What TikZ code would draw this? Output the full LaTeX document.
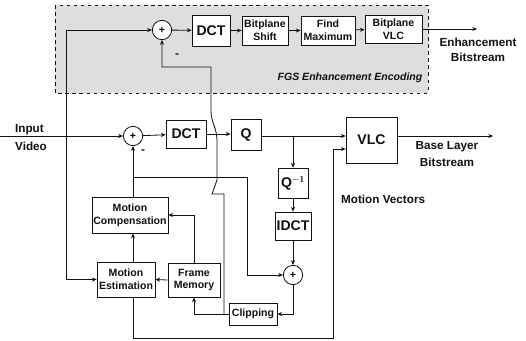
\documentclass[tikz,border=0pt]{standalone}
\usepackage{fontspec}
\setsansfont{Liberation Sans}
\usepackage{tikz}
\usetikzlibrary{arrows.meta,positioning,calc}
\definecolor{fgsInk}{HTML}{111111}
\definecolor{fgsShade}{HTML}{DEDEDE}
\tikzset{
  % plain block
  blk/.style={rectangle,draw=fgsInk,fill=white,line width=0.7pt,
    align=center,inner sep=1pt,font=\sffamily\bfseries\small,text=fgsInk},
  % adder
  sumc/.style={circle,draw=fgsInk,fill=white,line width=0.7pt,
    minimum size=0.58cm,inner sep=0pt,font=\sffamily\bfseries\small},
  % outside labels
  lbl/.style={font=\sffamily\bfseries,text=fgsInk,align=center},
  % wires
  arr/.style={-{Stealth[length=4pt,width=3.5pt]},line width=0.7pt,color=fgsInk},
  wire/.style={line width=0.7pt,color=fgsInk},
}
\begin{document}
\begin{tikzpicture}[x=0.03cm,y=-0.03cm]
  \useasboundingbox (0,0) rectangle (526,341);

  % FGS enhancement layer area
  \draw[dashed,fill=fgsShade,draw=fgsInk,line width=0.6pt] (55,5) rectangle (428,93);
  \node[lbl,font=\sffamily\bfseries\itshape\small] (fgs) at (350,78)
    {FGS Enhancement Encoding};

  % enhancement chain
  \node[sumc] (esum) at (162,30) {+};
  \node[blk,font=\sffamily\bfseries\large,minimum width=1.14cm,minimum height=0.93cm]
    (edct) at (211,30.5) {DCT};
  \node[blk,minimum width=1.38cm,minimum height=0.87cm] (bshift) at (265,30.5)
    {Bitplane\\Shift};
  \node[blk,minimum width=1.62cm,minimum height=0.87cm] (fmax) at (328,30.5)
    {Find\\Maximum};
  \node[blk,minimum width=1.71cm,minimum height=0.84cm] (bvlc) at (393.5,29)
    {Bitplane\\VLC};
  \node[lbl] (enhout) at (478,50) {Enhancement\\[1pt]Bitstream};
  \coordinate (enhend) at (477,29);

  % base layer chain
  \node[lbl,align=left] (input) at (31,137.5) {Input\\[4pt]Video};
  \coordinate (inp) at (0,136);
  \coordinate (split) at (66,136);
  \node[sumc] (msum) at (133,136) {+};
  \node[blk,font=\sffamily\bfseries\large,minimum width=1.2cm,minimum height=0.84cm]
    (mdct) at (186,134) {DCT};
  \node[blk,font=\sffamily\bfseries\large,minimum width=0.9cm,minimum height=0.93cm]
    (q) at (246,134.5) {Q};
  \node[blk,font=\sffamily\bfseries\large,minimum width=1.53cm,minimum height=1.38cm]
    (vlc) at (371.5,140) {VLC};
  \node[lbl] (baseout) at (447,154) {Base Layer\\[2pt]Bitstream};
  \coordinate (baseend) at (493,136);

  % reconstruction loop
  \node[blk,font=\sffamily\bfseries\large,minimum width=0.9cm,minimum height=0.9cm]
    (qinv) at (293,183) {Q$^{\mathbf{-1}}$};
  \node[blk,font=\sffamily\bfseries\large,minimum width=1.08cm,minimum height=0.84cm]
    (idct) at (293,226) {IDCT};
  \node[sumc] (rsum) at (293,275) {+};
  \node[blk,minimum width=1.44cm,minimum height=0.66cm] (clip) at (253,314) {Clipping};
  \node[blk,minimum width=1.56cm,minimum height=1.02cm] (fmem) at (194,280)
    {Frame\\Memory};
  \node[blk,minimum width=1.74cm,minimum height=1.05cm] (mest) at (126,279.5)
    {Motion\\Estimation};
  \node[blk,minimum width=2.28cm,minimum height=1.08cm] (mcomp) at (130,215)
    {Motion\\Compensation};
  \node[lbl,anchor=west] (mvlbl) at (337,199) {Motion Vectors};

  % signs
  \node[lbl,font=\sffamily\bfseries] (eminus) at (177,56) {-};
  \node[lbl,font=\sffamily\bfseries] (mminus) at (143,152) {-};

  \coordinate (fb) at (133,177);
  \coordinate (fbr) at (247,177);
  \coordinate (mv) at (333,338);
  \coordinate (rec) at (224,314);

  % connectors
  \draw[wire] (inp) -- (split);
  \draw[arr] (split) -- (msum.west);
  \draw[arr] (split) |- (esum.west);
  \draw[arr] (split) |- (mest.west);
  \draw[arr] (esum) -- (edct);
  \draw[arr] (edct) -- (bshift);
  \draw[arr] (bshift) -- (fmax);
  \draw[arr] (fmax) -- (bvlc);
  \draw[arr] (bvlc.east) -- (enhend);
  \draw[arr] (msum) -- (mdct);
  \draw[arr] (mdct.east) -- (mdct.east -| q.west);
  \draw[arr] (q.east |- split) -- (split -| vlc.west);
  \draw[arr] (vlc.east |- baseend) -- (baseend);
  \draw[arr] (q.east |- split -| qinv) -- (qinv);
  \draw[arr] (qinv) -- (idct);
  \draw[arr] (idct) -- (rsum);
  \draw[arr] (rsum.south) |- (clip.east);
  \draw[arr] (clip.west) -| (fmem.south);
  \draw[arr] (fmem.north) |- (mcomp.east);
  \draw[arr] (fmem.west) -- (mest.east);
  \draw[arr] (mest.north -| msum) -- (mcomp.south -| msum);
  \draw[arr] (mcomp.north -| msum) -- (msum.south);
  \draw[arr] (fb) -- (fbr) |- (rsum.west);
  \draw[arr] (mest.south -| msum) |- (mv) |- ([yshift=-0.27cm]vlc.west);
  \draw[arr] (rec) -- (224,194) -- (212,194) -- (217,180) -- (217,142)
    .. controls (217,126) and (211,124) .. (211,110) -- (211,67) -| (esum.south);
\end{tikzpicture}
\end{document}
